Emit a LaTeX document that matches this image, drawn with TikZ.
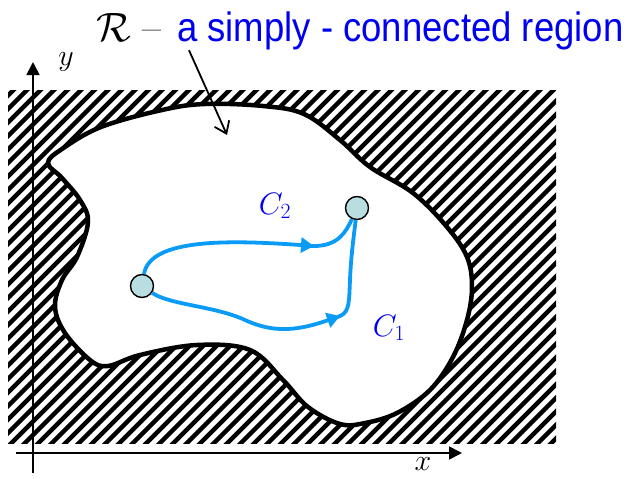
\RequirePackage{fix-cm}
\documentclass[tikz,border=0pt]{standalone}
\usepackage{fontspec}
\newfontfamily\regionfont[FakeStretch=0.89]{Liberation Sans}
\usetikzlibrary{arrows.meta}
\definecolor{pathblue}{HTML}{0A9BF7}
\definecolor{textblue}{HTML}{0000F0}
\definecolor{dotfill}{HTML}{B9DEE1}

\begin{document}
\begin{tikzpicture}[x=1pt, y=-1pt,
  hatch/.style={line width=4.5pt},
  rim/.style={line width=4.5pt, line join=round},
  axis/.style={line width=1.8pt, -{Triangle[length=13pt,width=13pt]}},
  pointer/.style={line width=1.8pt, -{Straight Barb[length=11pt,width=16pt]}},
  curve/.style={pathblue, line width=3.8pt},
  curvetip/.style={curve, -{Triangle[length=13pt,width=15pt]}},
  dot/.style={circle, draw, line width=1.4pt, fill=dotfill, minimum size=23pt, inner sep=0pt},
  lbl/.style={inner sep=0pt, font=\fontsize{31}{37}\selectfont}]
\useasboundingbox (0,0) rectangle (633,479);
\begin{scope}
\clip (8,90) rectangle (556,443);
\foreach \x in {-360,-346.5,...,570} \draw[hatch] (\x,450) -- ++(370,-370);
\end{scope}
\coordinate (xs) at (16,453);
\coordinate (xe) at (462,453);
\coordinate (ys) at (33,473);
\coordinate (ye) at (33,62);
\draw[axis] (xs) -- (xe);
\draw[axis] (ys) -- (ye);
\node[lbl, font=\fontsize{30}{36}\selectfont] (xlab) at (423,464) {$x$};
\node[lbl, font=\fontsize{30}{36}\selectfont] (ylab) at (66,62) {$y$};
\draw[rim, fill=white] plot[smooth cycle, tension=0.6] coordinates {
  (48,163) (62,178) (80,200) (88,222) (77,257) (62,280) (55,307) (65,333)
  (90,360) (108,366) (140,355) (197,345) (250,350) (283,380) (308,407)
  (340,424) (365,423) (397,413) (430,390) (453,357) (467,320) (472,287)
  (467,257) (447,227) (413,193) (370,167) (340,140) (304,114) (263,106)
  (205,104) (162,110) (101,127) (62,149)};
\node[anchor=base west, inner sep=0pt, font=\fontsize{41}{49}\selectfont] (rsym) at (96,41.5) {$\mathcal{R}$\hspace{12pt}--};
\node[anchor=base west, inner sep=0pt, font=\regionfont\fontsize{41}{49}\selectfont, textblue] (rtext) at (177,41.5) {a simply - connected region};
\coordinate (phead) at (227,135);
\draw[pointer] ([xshift=12pt]rtext.south west) -- (phead);
\node[dot] (pa) at (142,286) {};
\node[dot] (pb) at (357,208) {};
\coordinate (c2tip) at (314,246);
\coordinate (c1tip) at (340,316);
\draw[curvetip] (pa) .. controls (150,238) and (230,240) .. (c2tip);
\draw[curve] ([shift={(-8,0)}]c2tip) -- (c2tip) .. controls (338,246) and (346,232) .. (pb);
\draw[curvetip] (pa) .. controls (170,305) and (215,306) .. (245,320) .. controls (275,334) and (300,330) .. (c1tip);
\draw[curve] ([shift={(-8,3)}]c1tip) -- (c1tip) .. controls (350,312) and (349,300) .. (350,280) .. controls (351,255) and (354,235) .. (pb);
\node[lbl, textblue] (c2lab) at (275,206) {$C_2$};
\node[lbl, textblue] (c1lab) at (389,328) {$C_1$};
\end{tikzpicture}
\end{document}
